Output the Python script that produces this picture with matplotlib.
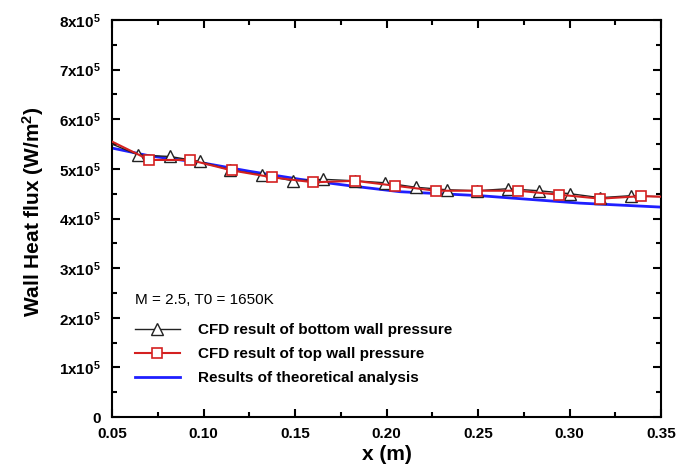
import matplotlib
matplotlib.use("Agg")
import matplotlib.pyplot as plt
from matplotlib.ticker import MultipleLocator, FixedLocator

plt.rcParams['font.family'] = ['Liberation Sans', 'DejaVu Sans']
plt.rcParams['mathtext.fontset'] = 'custom'
plt.rcParams['mathtext.rm'] = 'Liberation Sans:bold'
plt.rcParams['mathtext.bf'] = 'Liberation Sans:bold'
plt.rcParams['mathtext.it'] = 'Liberation Sans:bold'
plt.rcParams['mathtext.default'] = 'rm'

# Data (heat flux in units of 1e5 W/m^2)
x_bottom = [0.05, 0.0644, 0.0817, 0.098, 0.1145, 0.1318, 0.1487, 0.1655, 0.1828, 0.199,
            0.216, 0.2329, 0.2493, 0.2662, 0.2833, 0.3003, 0.3167, 0.3334, 0.35]
q_bottom = [5.50, 5.28, 5.25, 5.15, 4.98, 4.88, 4.76, 4.79, 4.76, 4.72,
            4.63, 4.58, 4.56, 4.60, 4.56, 4.50, 4.42, 4.46, 4.44]
x_top = [0.05, 0.0704, 0.0926, 0.1154, 0.1376, 0.16, 0.1828, 0.2047, 0.227,
         0.2493, 0.272, 0.2944, 0.3167, 0.339, 0.35]
q_top = [5.55, 5.18, 5.18, 4.97, 4.83, 4.73, 4.76, 4.66, 4.56,
         4.56, 4.56, 4.48, 4.40, 4.45, 4.44]
x_theory = [0.05, 0.0708, 0.098, 0.1254, 0.1527, 0.18, 0.2074, 0.2511, 0.3057, 0.35]
q_theory = [5.42, 5.26, 5.13, 4.95, 4.79, 4.66, 4.54, 4.46, 4.31, 4.23]

y_ticks = [0, 1, 2, 3, 4, 5, 6, 7, 8]
y_ticklabels = ['0'] + [f'{v}x10$^{{5}}$' for v in y_ticks[1:]]
x_ticks = [0.05, 0.10, 0.15, 0.20, 0.25, 0.30, 0.35]
x_ticklabels = ['0.05', '0.10', '0.15', '0.20', '0.25', '0.30', '0.35']

fig = plt.figure(figsize=(6.89, 4.71), dpi=100)
ax = fig.add_axes([0.1626, 0.1146, 0.7968, 0.8429])

ax.plot(x_bottom, q_bottom, color='#222222', lw=1.0, marker='^', markersize=8,
        markerfacecolor='white', markeredgecolor='#222222', markeredgewidth=1.0,
        markevery=list(range(1, len(x_bottom) - 1)),
        label='CFD result of bottom wall pressure', zorder=3)
ax.plot(x_top, q_top, color='#d42020', lw=1.5, marker='s', markersize=7.5,
        markerfacecolor='white', markeredgecolor='#d42020', markeredgewidth=1.2,
        markevery=list(range(1, len(x_top) - 1)),
        label='CFD result of top wall pressure', zorder=4)
ax.plot(x_theory, q_theory, color='#1f1fff', lw=2.0,
        label='Results of theoretical analysis', zorder=2)

ax.set_xlim(0.05, 0.35)
ax.set_ylim(0, 8)
ax.xaxis.set_major_locator(FixedLocator(x_ticks))
ax.set_xticklabels(x_ticklabels)
ax.xaxis.set_minor_locator(MultipleLocator(0.025))
ax.yaxis.set_major_locator(FixedLocator(y_ticks))
ax.set_yticklabels(y_ticklabels)
ax.yaxis.set_minor_locator(MultipleLocator(0.5))

ax.tick_params(which='both', direction='in', top=True, right=True, width=1.5)
ax.tick_params(which='major', length=6, labelsize=11)
ax.tick_params(axis='x', which='major', pad=7)
ax.tick_params(axis='y', which='major', pad=8)
ax.tick_params(which='minor', length=3.5)
for lbl in ax.get_xticklabels() + ax.get_yticklabels():
    lbl.set_fontweight('bold')
for s in ax.spines.values():
    s.set_linewidth(1.5)

ax.set_xlabel('x (m)', fontsize=15, fontweight='bold', labelpad=3)
ax.set_ylabel('Wall Heat flux (W/m$^{2}$)', fontsize=15, fontweight='bold')
ax.yaxis.set_label_coords(-0.12, 0.518)

ax.text(0.042, 0.295, 'M = 2.5, T0 = 1650K', transform=ax.transAxes,
        fontsize=11, ha='left', va='center')
leg = ax.legend(loc='lower left', bbox_to_anchor=(0.016, 0.045), frameon=False,
                prop={'weight': 'bold', 'size': 11}, handlelength=3.0,
                handletextpad=1.15, labelspacing=0.66)

fig.savefig('out.png', dpi=100)
